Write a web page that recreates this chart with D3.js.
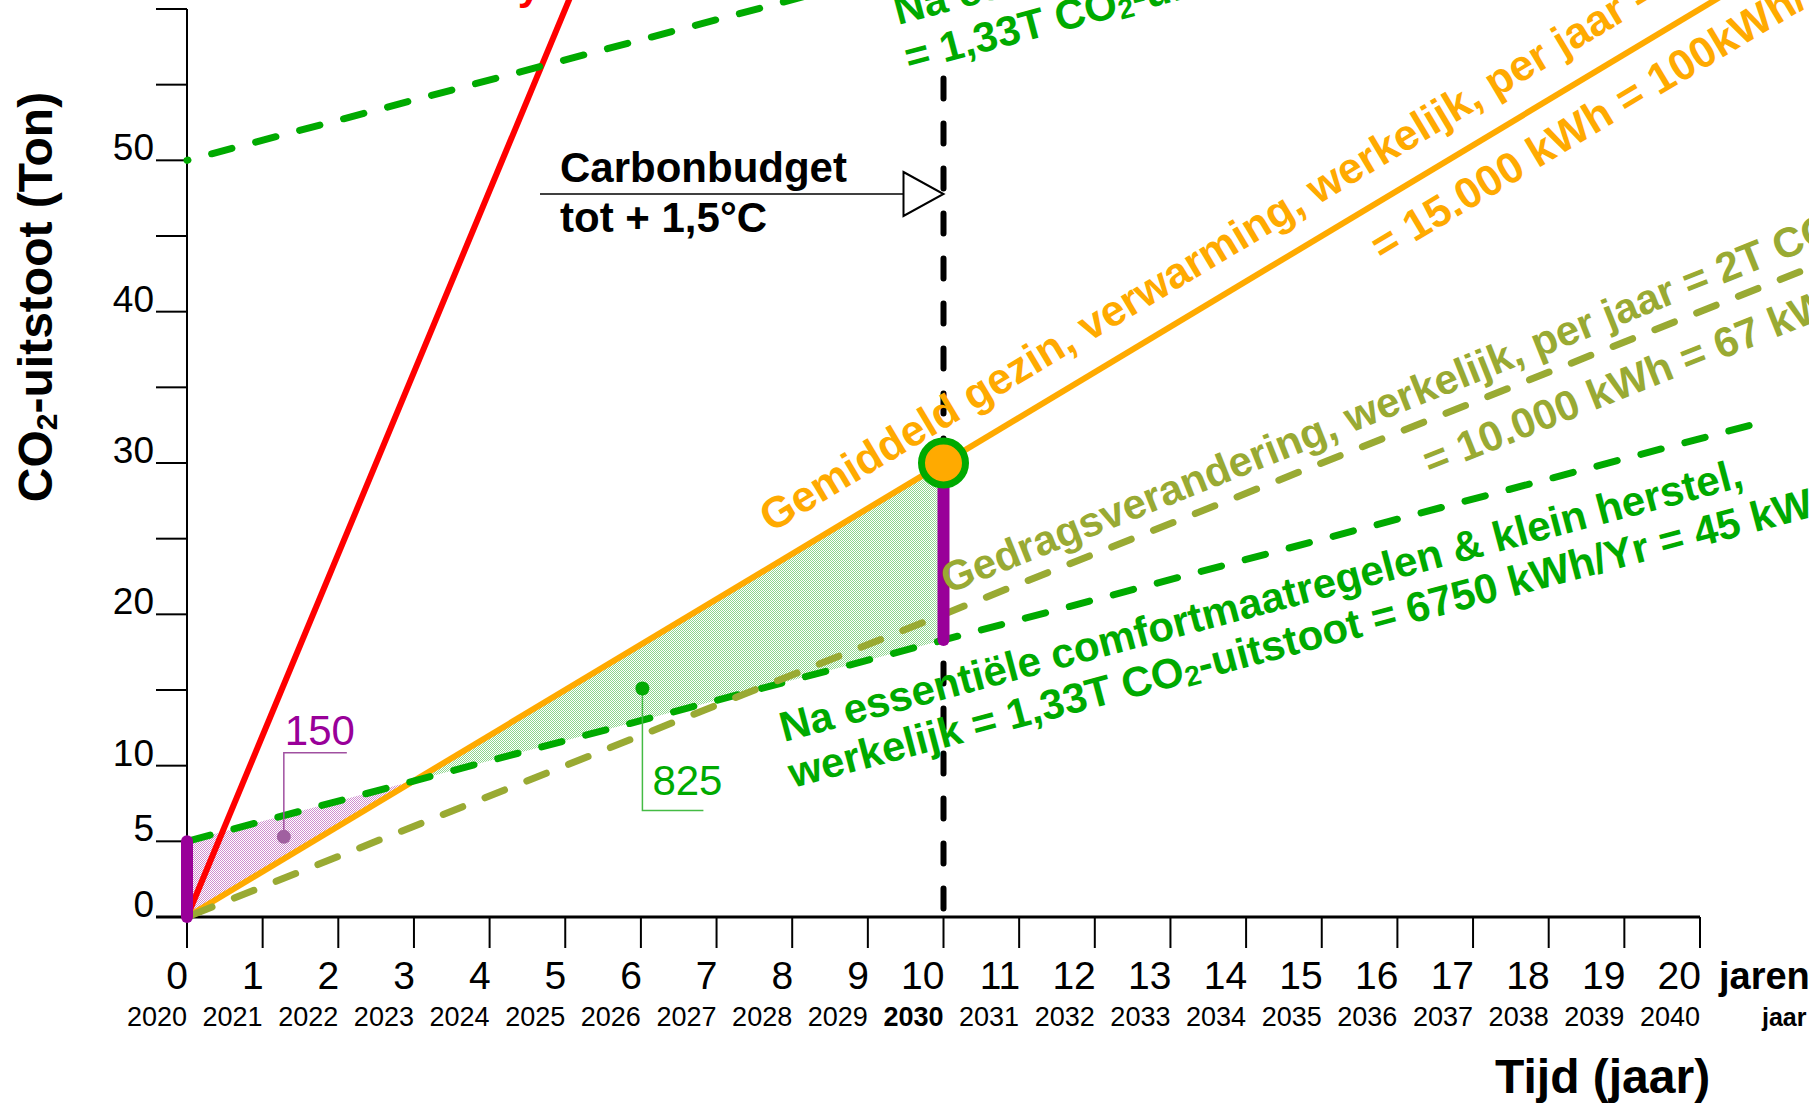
<!DOCTYPE html>
<html><head><meta charset="utf-8">
<script src="https://cdn.jsdelivr.net/npm/d3@7"></script>
<style>
html,body{margin:0;padding:0;background:#fff;overflow:hidden}
svg{display:block}
text{font-family:"Liberation Sans",Arial,sans-serif}
</style>
</head><body>
<svg id="chart" width="1809" height="1104"></svg>
<script>
// ---------- data ----------
const xTickValues = [0,1,2,3,4,5,6,7,8,9,10,11,12,13,14,15,16,17,18,19,20];
const xTickLabels = ["0","1","2","3","4","5","6","7","8","9","10","11","12","13","14","15","16","17","18","19","20"];
const yearLabels = ["2020","2021","2022","2023","2024","2025","2026","2027","2028","2029","2030","2031","2032","2033","2034","2035","2036","2037","2038","2039","2040"];
const yTickValues = [0,5,10,15,20,25,30,35,40,45,50,55,60];
const yLabelValues = [0,5,10,20,30,40,50];

const redLine       = [[0,0],[5.6,67.2]];
const orangeLine    = [[0,0],[21.6,64.8]];
const oliveLine     = [[0,0],[21.6,43.2]];
const greenLowLine  = [[0,5],[20.67,32.5]];
const greenHighLine = [[0,50],[11,64.6]];
const budgetLine    = [[10,55.4],[10,0]];
const purpleBars    = [[[0,0],[0,5]],[[10,18.3],[10,30]]];
const pinkArea      = [{x:0,lo:0,hi:5},{x:3,lo:9,hi:9}];
const greenArea     = [{x:3,lo:9,hi:9},{x:10,lo:18.3,hi:30}];
const target2030    = [10,30];
const callouts      = [{x:1.28,y:5.3,label:"150"},{x:6.02,y:15.1,label:"825"}];

// ---------- setup ----------
const svg = d3.select("#chart");
const x = d3.scaleLinear().domain([0,20]).range([187,1700]);
const y = d3.scaleLinear().domain([0,60]).range([917,9]);
const C = {red:"#ff0000", orange:"#ffaa00", green:"#00aa00", olive:"#99aa33", purple:"#990099"};
const ang = s => Math.atan((y(0)-y(s))/(x(1)-x(0))) * 180/Math.PI;

const defs = svg.append("defs");
function pat(id, col){
  const p = defs.append("pattern").attr("id",id).attr("width",2).attr("height",2).attr("patternUnits","userSpaceOnUse");
  p.append("rect").attr("width",2).attr("height",2).attr("fill","#fff");
  p.append("rect").attr("width",1).attr("height",1).attr("fill",col);
  p.append("rect").attr("x",1).attr("y",1).attr("width",1).attr("height",1).attr("fill",col);
}
pat("pinkPat","#cf8fcf");
pat("greenPat","#8ed68e");

const line = d3.line().x(d=>x(d[0])).y(d=>y(d[1]));
const area = d3.area().x(d=>x(d.x)).y0(d=>y(d.lo)).y1(d=>y(d.hi));

// ---------- axes ----------
const ax = svg.append("g");
ax.append("line").attr("x1",x(0)).attr("x2",x(0)).attr("y1",y(60)).attr("y2",y(0)).attr("stroke","#000").attr("stroke-width",2);
ax.selectAll(".yt").data(yTickValues).enter().append("line")
  .attr("x1",156).attr("x2",x(0)).attr("y1",d=>y(d)).attr("y2",d=>y(d)).attr("stroke","#000").attr("stroke-width",2);
ax.append("line").attr("x1",156).attr("x2",x(20)).attr("y1",y(0)).attr("y2",y(0)).attr("stroke","#000").attr("stroke-width",3);
ax.selectAll(".xt").data(xTickValues).enter().append("line")
  .attr("x1",d=>x(d)).attr("x2",d=>x(d)).attr("y1",y(0)).attr("y2",y(0)+31).attr("stroke","#000").attr("stroke-width",2);
ax.selectAll(".yl").data(yLabelValues).enter().append("text")
  .attr("x",154).attr("y",d=>y(d)).attr("text-anchor","end").attr("font-size",37).text(d=>d);
ax.selectAll(".xl").data(xTickValues).enter().append("text")
  .attr("x",d=>x(d)+1).attr("y",989).attr("text-anchor","end").attr("font-size",39).text((d,i)=>xTickLabels[i]);
ax.selectAll(".yr").data(xTickValues).enter().append("text")
  .attr("x",d=>x(d)).attr("y",1026).attr("text-anchor","end").attr("font-size",27)
  .attr("font-weight",(d,i)=>yearLabels[i]==="2030"?"bold":"normal").text((d,i)=>yearLabels[i]);
ax.append("text").attr("x",1719).attr("y",989).attr("font-size",38).attr("font-weight","bold").text("jaren");
ax.append("text").attr("x",1762).attr("y",1026).attr("font-size",25).attr("font-weight","bold").text("jaar");
ax.append("text").attr("x",1495).attr("y",1093).attr("font-size",48).attr("font-weight","bold").text("Tijd (jaar)");
const yt = ax.append("text").attr("transform","translate(52,297) rotate(-90)").attr("text-anchor","middle")
  .attr("font-size",48).attr("font-weight","bold");
yt.append("tspan").text("CO");
yt.append("tspan").attr("font-size",30).attr("dy",5).text("2");
yt.append("tspan").attr("dy",-5).text("-uitstoot (Ton)");

// ---------- fills ----------
svg.append("path").datum(pinkArea).attr("d",area).attr("fill","url(#pinkPat)");
svg.append("path").datum(greenArea).attr("d",area).attr("fill","url(#greenPat)");

// ---------- lines ----------
svg.append("path").datum(budgetLine).attr("d",line).attr("stroke","#000").attr("stroke-width",6)
  .attr("stroke-dasharray","20 25").attr("stroke-linecap","round").attr("fill","none");
svg.append("path").datum(redLine).attr("d",line).attr("stroke",C.red).attr("stroke-width",6).attr("fill","none");
svg.append("path").datum(orangeLine).attr("d",line).attr("stroke",C.orange).attr("stroke-width",6).attr("fill","none");
svg.append("path").datum(greenHighLine).attr("d",line).attr("stroke",C.green).attr("stroke-width",7)
  .attr("stroke-dasharray","21 24.5").attr("stroke-dashoffset",20).attr("stroke-linecap","round").attr("fill","none");
svg.append("path").datum(greenLowLine).attr("d",line).attr("stroke",C.green).attr("stroke-width",7)
  .attr("stroke-dasharray","21 24.5").attr("stroke-dashoffset",-3).attr("stroke-linecap","round").attr("fill","none");
svg.append("path").datum(oliveLine).attr("d",line).attr("stroke",C.olive).attr("stroke-width",7)
  .attr("stroke-dasharray","21 24").attr("stroke-dashoffset",-6).attr("stroke-linecap","round").attr("fill","none");
svg.selectAll(".pb").data(purpleBars).enter().append("path").attr("d",line)
  .attr("stroke",C.purple).attr("stroke-width",12).attr("stroke-linecap","round").attr("fill","none");
svg.append("circle").attr("cx",x(target2030[0])).attr("cy",y(target2030[1])).attr("r",22)
  .attr("fill",C.orange).attr("stroke",C.green).attr("stroke-width",7);

// ---------- callouts ----------
const co = [
  {dot:"#a060a0", txt:C.purple, lead:"#a050a0", dy:-84, dx:63, tx:1, ty:-8},
  {dot:C.green, txt:C.green, lead:"#44bb44", dy:122, dx:61, tx:10, ty:-15}
];
callouts.forEach((c,i)=>{
  const s = co[i], px = x(c.x), py = y(c.y);
  svg.append("path").attr("d",`M${px},${py}V${py+s.dy}H${px+s.dx}`).attr("stroke",s.lead).attr("stroke-width",1.5).attr("fill","none");
  svg.append("circle").attr("cx",px).attr("cy",py).attr("r",7).attr("fill",s.dot);
  svg.append("text").attr("x",px+s.tx).attr("y",py+s.dy+s.ty).attr("font-size",42).attr("fill",s.txt).text(c.label);
});

// ---------- carbon budget arrow ----------
const tip = [x(10), 194];
svg.append("line").attr("x1",540).attr("x2",tip[0]-40).attr("y1",tip[1]).attr("y2",tip[1]).attr("stroke","#000").attr("stroke-width",1.5);
svg.append("path").attr("d",`M${tip[0]-40},${tip[1]-22}L${tip[0]},${tip[1]}L${tip[0]-40},${tip[1]+22}Z`)
  .attr("fill","#fff").attr("stroke","#000").attr("stroke-width",2);
svg.append("text").attr("x",560).attr("y",182).attr("font-size",42).attr("font-weight","bold").text("Carbonbudget");
svg.append("text").attr("x",560).attr("y",232).attr("font-size",42).attr("font-weight","bold").text("tot + 1,5°C");

// ---------- rotated labels ----------
function rtext(px, py, a, col, size, pre, post){
  const t = svg.append("text").attr("transform",`translate(${px},${py}) rotate(${-a})`)
    .attr("font-size",size).attr("font-weight","bold").attr("fill",col);
  t.append("tspan").text(pre);
  if (post !== undefined){
    t.append("tspan").attr("font-size",size*0.67).attr("dy",4).text("2");
    t.append("tspan").attr("dy",-4).text(post);
  }
}
const aO = ang(3), aV = ang(2), aG = ang(1.33);
rtext(771,533,aO,C.orange,43.3,"Gemiddeld gezin, verwarming, werkelijk, per jaar = 3T CO","-uitstoot");
rtext(1382,262,aO,C.orange,43.3,"= 15.000 kWh = 100kWh/m² per jaar");
rtext(948,594,aV,C.olive,42,"Gedragsverandering, werkelijk, per jaar = 2T CO","-uitstoot");
rtext(1430,476,aV,C.olive,42,"= 10.000 kWh = 67 kWh/m² per jaar");
rtext(784,742,aG,C.green,42,"Na essentiële comfortmaatregelen & klein herstel,");
rtext(793,788,aG,C.green,42,"werkelijk = 1,33T CO","-uitstoot = 6750 kWh/Yr = 45 kWh/m²");
rtext(898,25,aG,C.green,42,"Na essentiële comfortmaatregelen & klein herstel,");
rtext(909,72,aG,C.green,42,"= 1,33T CO","-uitstoot = 6750 kWh/Yr");
svg.append("text").attr("x",541).attr("y",-1).attr("text-anchor","end").attr("font-size",42)
  .attr("font-weight","bold").attr("fill",C.red).text("Totaal huishouden = 12T CO2 = 80.000 kWh Yearly");
</script>
</body></html>
